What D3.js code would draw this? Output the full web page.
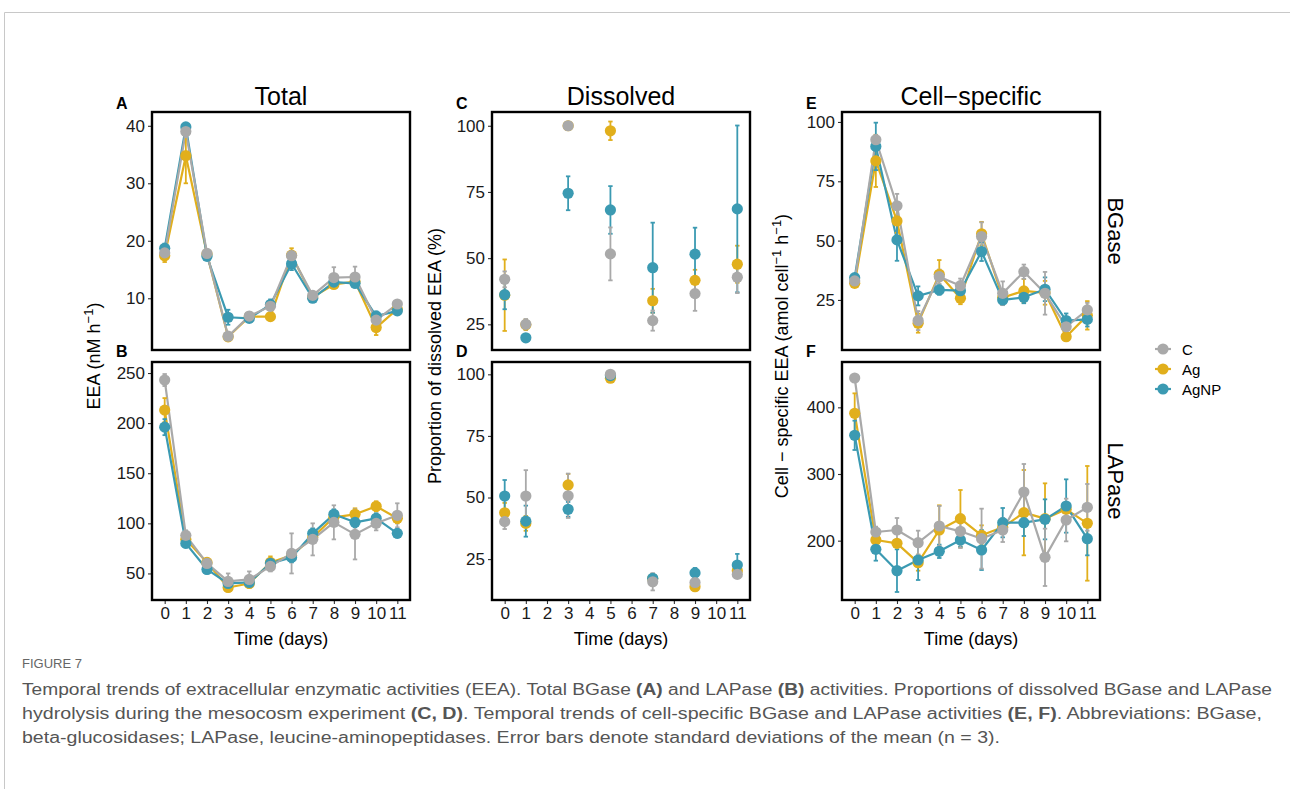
<!DOCTYPE html>
<html>
<head>
<meta charset="utf-8">
<script src="https://cdn.jsdelivr.net/npm/d3@7"></script>
<style>
  body { margin: 0; background: #fff; }
  svg text { font-family: "Liberation Sans", Arial, Helvetica, sans-serif; }
  .caption text { font-family: "Liberation Sans Narrow", "Arial Narrow", "Liberation Sans", sans-serif; }
</style>
</head>
<body>
<script>
// sampling days
var days = [0, 1, 2, 3, 4, 5, 6, 7, 8, 9, 10, 11];
var dissolvedDays = [0, 1, 3, 5, 7, 9, 11];
var treatments = ["C", "Ag", "AgNP"];
var drawOrder = ["Ag", "AgNP", "C"];
var colours = {C: "#a9a9a9", Ag: "#e1af1c", AgNP: "#3b9ab2"};

// A: total BGase (nM h-1)
var totalBGase = {
  C:    [17.9, 39.0, 17.8, 3.4, 6.9, 8.6, 17.4, 10.5, 13.6, 13.7, 6.2, 9.0],
  Ag:   [17.4, 34.8, 17.7, 3.3, 6.8, 6.8, 17.5, 10.2, 12.4, 12.9, 4.9, 8.1],
  AgNP: [18.7, 39.8, 17.3, 6.7, 6.5, 8.9, 16.0, 10.0, 12.8, 12.6, 6.9, 7.8]
};
var totalBGaseSD = {
  C:    [0.8, 1.0, 0.5, 0.3, 0.3, 0.5, 0.8, 0.4, 1.8, 1.8, 0.8, 0.5],
  Ag:   [1.1, 4.8, 0.5, 0.3, 0.3, 0.4, 1.2, 0.4, 0.6, 0.6, 1.3, 0.5],
  AgNP: [0.8, 0.5, 0.5, 1.3, 0.4, 0.9, 1.1, 0.4, 0.5, 0.7, 0.8, 0.5]
};

// B: total LAPase (nM h-1)
var totalLAPase = {
  C:    [243, 88, 60, 42, 44, 57, 70, 84, 101, 89, 100, 108],
  Ag:   [213, 84, 61, 36, 40, 61, 68, 86, 106, 109, 117, 105],
  AgNP: [196, 80, 54, 40, 41, 60, 66, 90, 109, 101, 105, 90]
};
var totalLAPaseSD = {
  C:    [6, 5, 4, 8, 8, 5, 20, 16, 17, 25, 7, 12],
  Ag:   [12, 4, 4, 4, 4, 6, 5, 5, 5, 6, 5, 5],
  AgNP: [8, 4, 4, 3, 3, 4, 5, 5, 5, 5, 5, 4]
};

// C: dissolved BGase (%), only on dissolvedDays
var dissolvedBGase = {
  C:    [42.0, 25.0, 100, 51.6, 26.4, 36.6, 42.8],
  Ag:   [36.0, 24.8, 100, 98.1, 33.9, 41.6, 47.7],
  AgNP: [36.2, 19.9, 74.5, 68.2, 46.4, 51.5, 68.6]
};
var dissolvedBGaseSD = {
  C:    [3, 2, 0.3, 10, 3.8, 6.5, 6],
  Ag:   [13.5, 2, 0.3, 3.5, 4.5, 4, 7],
  AgNP: [5.5, 0.5, 6.4, 9, 17, 10, 31.5]
};

// D: dissolved LAPase (%)
var dissolvedLAPase = {
  C:    [40.2, 50.6, 50.7, 100, 15.8, 15.5, 18.8],
  Ag:   [43.8, 39.5, 55.1, 98.4, 17.0, 13.8, 20.3],
  AgNP: [50.6, 40.4, 45.2, 99.5, 17.2, 19.4, 22.6]
};
var dissolvedLAPaseSD = {
  C:    [3, 10.5, 9, 0.3, 3.5, 2, 1.5],
  Ag:   [4, 3, 4.5, 1.5, 2, 1.5, 2],
  AgNP: [6.5, 6.3, 3, 0.5, 1.5, 2, 4.5]
};

// E: cell-specific BGase (amol cell-1 h-1)
var cellBGase = {
  C:    [33.0, 92.5, 64.7, 16.3, 34.8, 31.0, 51.7, 27.8, 36.9, 27.8, 13.7, 20.8],
  Ag:   [32.0, 83.6, 58.3, 15.2, 35.8, 25.7, 52.9, 26.0, 28.8, 28.0, 9.5, 18.5],
  AgNP: [34.4, 89.7, 50.3, 26.7, 29.2, 28.9, 45.4, 25.0, 26.1, 29.5, 16.3, 16.8]
};
var cellBGaseSD = {
  C:    [1.5, 2, 5, 4, 3, 3, 6, 5, 3, 9, 3, 3],
  Ag:   [1.5, 11, 5, 4, 6, 2.5, 5, 3, 5, 5, 1, 6],
  AgNP: [1.5, 10, 8.8, 4, 2, 3, 4, 2, 2.5, 5, 3, 3]
};

// F: cell-specific LAPase (amol cell-1 h-1)
var cellLAPase = {
  C:    [444, 213, 216, 197, 222, 214, 203, 216, 273, 175, 231, 250],
  Ag:   [391, 201, 196, 167, 216, 233, 208, 220, 242, 233, 247, 226],
  AgNP: [358, 187, 155, 171, 184, 201, 186, 227, 227, 232, 252, 203]
};
var cellLAPaseSD = {
  C:    [5, 8, 18, 18, 30, 25, 45, 18, 42, 43, 32, 35],
  Ag:   [30, 8, 5, 12, 37, 43, 15, 10, 64, 53, 10, 86],
  AgNP: [22, 17, 32, 30, 10, 10, 30, 22, 20, 30, 40, 25]
};

var yTicksA = [10, 20, 30, 40];
var yTicksB = [50, 100, 150, 200, 250];
var yTicksPct = [25, 50, 75, 100];
var yTicksF = [200, 300, 400];

// layout
var colX = [152, 492, 842], rowY = [112, 362];
var W = 258, H = 238;

var panels = [
  {tag: "A", col: 0, row: 0, x: days, mean: totalBGase, sd: totalBGaseSD, dom: [1.0, 42.4], ticks: yTicksA, lines: true},
  {tag: "B", col: 0, row: 1, x: days, mean: totalLAPase, sd: totalLAPaseSD, dom: [23.5, 261], ticks: yTicksB, lines: true},
  {tag: "C", col: 1, row: 0, x: dissolvedDays, mean: dissolvedBGase, sd: dissolvedBGaseSD, dom: [15.3, 105.2], ticks: yTicksPct, lines: false},
  {tag: "D", col: 1, row: 1, x: dissolvedDays, mean: dissolvedLAPase, sd: dissolvedLAPaseSD, dom: [8.4, 105], ticks: yTicksPct, lines: false},
  {tag: "E", col: 2, row: 0, x: days, mean: cellBGase, sd: cellBGaseSD, dom: [3.9, 104.2], ticks: yTicksPct, lines: true},
  {tag: "F", col: 2, row: 1, x: days, mean: cellLAPase, sd: cellLAPaseSD, dom: [111, 468], ticks: yTicksF, lines: true}
];

var svg = d3.select("body").append("svg")
    .attr("width", 1290)
    .attr("height", 789);

// page frame
svg.append("path")
    .attr("d", "M4.5,789V12.5H1290")
    .attr("fill", "none")
    .attr("stroke", "#c8c8c8")
    .attr("stroke-width", 1);

var x = d3.scaleLinear().domain([-0.6, 11.6]).range([0, W]);

panels.forEach(function(p) {
  var g = svg.append("g")
      .attr("transform", "translate(" + colX[p.col] + "," + rowY[p.row] + ")");
  var y = d3.scaleLinear().domain(p.dom).range([H, 0]);

  // rows per treatment
  var series = drawOrder.map(function(t) {
    return {key: t, values: p.x.map(function(d, i) {
      return {day: d, m: p.mean[t][i], sd: p.sd[t][i]};
    })};
  });

  if (p.lines) {
    var line = d3.line()
        .x(function(d) { return x(d.day); })
        .y(function(d) { return y(d.m); });
    series.forEach(function(s) {
      g.append("path")
          .attr("d", line(s.values))
          .attr("fill", "none")
          .attr("stroke", colours[s.key])
          .attr("stroke-width", 2.2)
          .attr("stroke-linejoin", "round");
    });
  }

  // error bars
  series.forEach(function(s) {
    var eb = g.append("g").attr("stroke", colours[s.key]).attr("stroke-width", 1.8);
    s.values.forEach(function(d) {
      var cx = x(d.day), y0 = y(d.m - d.sd), y1 = y(d.m + d.sd);
      eb.append("line").attr("x1", cx).attr("x2", cx).attr("y1", y0).attr("y2", y1);
      eb.append("line").attr("x1", cx - 2.2).attr("x2", cx + 2.2).attr("y1", y0).attr("y2", y0);
      eb.append("line").attr("x1", cx - 2.2).attr("x2", cx + 2.2).attr("y1", y1).attr("y2", y1);
    });
  });

  // points
  series.forEach(function(s) {
    g.selectAll(null)
        .data(s.values)
        .enter().append("circle")
        .attr("cx", function(d) { return x(d.day); })
        .attr("cy", function(d) { return y(d.m); })
        .attr("r", 5.6)
        .attr("fill", colours[s.key]);
  });

  // y axis
  var ya = g.append("g")
      .call(d3.axisLeft(y).tickValues(p.ticks).tickSize(4).tickPadding(3));
  ya.select(".domain").remove();
  ya.selectAll("line").attr("stroke", "#333").attr("stroke-width", 1.1);
  ya.selectAll("text").attr("font-size", 17).attr("fill", "#1a1a1a")
      .style("font-family", "'Liberation Sans', Arial, sans-serif");

  // x axis on bottom row only
  if (p.row == 1) {
    var xa = g.append("g")
        .attr("transform", "translate(0," + H + ")")
        .call(d3.axisBottom(x).tickValues(days).tickFormat(d3.format("d")).tickSize(4).tickPadding(3));
    xa.select(".domain").remove();
    xa.selectAll("line").attr("stroke", "#333").attr("stroke-width", 1.1);
    xa.selectAll("text").attr("font-size", 17).attr("fill", "#1a1a1a")
        .style("font-family", "'Liberation Sans', Arial, sans-serif");
  }

  // panel border
  g.append("rect")
      .attr("width", W)
      .attr("height", H)
      .attr("fill", "none")
      .attr("stroke", "#000")
      .attr("stroke-width", 2.4);

  // panel tag
  svg.append("text")
      .attr("x", colX[p.col] - 36)
      .attr("y", p.row == 0 ? 109 : 357)
      .attr("font-size", 16)
      .attr("font-weight", "bold")
      .text(p.tag);
});

// column titles
var colTitles = ["Total", "Dissolved", "Cell\u2212specific"];
colTitles.forEach(function(t, i) {
  svg.append("text")
      .attr("x", colX[i] + W / 2)
      .attr("y", 105)
      .attr("text-anchor", "middle")
      .attr("font-size", 25)
      .text(t);
  svg.append("text")
      .attr("x", colX[i] + W / 2)
      .attr("y", 645)
      .attr("text-anchor", "middle")
      .attr("font-size", 18)
      .text("Time (days)");
});

// y axis titles
var midY = (rowY[0] + rowY[1] + H) / 2;
function yTitle(xc, parts) {
  var t = svg.append("text")
      .attr("transform", "translate(" + xc + "," + midY + ") rotate(-90)")
      .attr("text-anchor", "middle")
      .attr("font-size", 18);
  parts.forEach(function(pt) {
    var s = t.append("tspan").text(pt.t);
    if (pt.sup) s.attr("baseline-shift", "super").attr("font-size", 13);
  });
}
yTitle(100, [{t: "EEA (nM h"}, {t: "\u22121", sup: true}, {t: ")"}]);
yTitle(441, [{t: "Proportion of dissolved EEA (%)"}]);
yTitle(788, [{t: "Cell \u2212 specific EEA (amol cell"}, {t: "\u22121", sup: true}, {t: " h"}, {t: "\u22121", sup: true}, {t: ")"}]);

// strip labels
var strips = ["BGase", "LAPase"];
strips.forEach(function(s, i) {
  svg.append("text")
      .attr("transform", "translate(" + (colX[2] + W + 8) + "," + (rowY[i] + H / 2) + ") rotate(90)")
      .attr("text-anchor", "middle")
      .attr("font-size", 22)
      .text(s);
});

// legend
var legend = svg.append("g").attr("transform", "translate(1163,349)");
treatments.forEach(function(t, i) {
  var row = legend.append("g").attr("transform", "translate(0," + i * 20 + ")");
  row.append("line").attr("x1", -8).attr("x2", 8)
      .attr("stroke", colours[t]).attr("stroke-width", 2.2);
  row.append("circle").attr("r", 5.6).attr("fill", colours[t]);
  row.append("text").attr("x", 19).attr("y", 5.5).attr("font-size", 15).text(t);
});

// caption
var cap = svg.append("g").attr("class", "caption").attr("fill", "#555");
cap.append("text")
    .attr("x", 22).attr("y", 668)
    .attr("font-size", 13)
    .attr("fill", "#666")
    .text("FIGURE 7");
var capLines = [
  {y: 695, len: 1250, parts: [["Temporal trends of extracellular enzymatic activities (EEA). Total BGase "], ["(A)", 1], [" and LAPase "], ["(B)", 1], [" activities. Proportions of dissolved BGase and LAPase"]]},
  {y: 719, len: 1240, parts: [["hydrolysis during the mesocosm experiment "], ["(C, D)", 1], [". Temporal trends of cell-specific BGase and LAPase activities "], ["(E, F)", 1], [". Abbreviations: BGase,"]]},
  {y: 743, len: 978, parts: [["beta-glucosidases; LAPase, leucine-aminopeptidases. Error bars denote standard deviations of the mean (n = 3)."]]}
];
capLines.forEach(function(l) {
  var t = cap.append("text")
      .attr("x", 22).attr("y", l.y)
      .attr("font-size", 16)
      .attr("textLength", l.len)
      .attr("lengthAdjust", "spacingAndGlyphs");
  l.parts.forEach(function(pt) {
    var s = t.append("tspan").text(pt[0]);
    if (pt[1]) s.attr("font-weight", "bold");
  });
});
</script>
</body>
</html>
